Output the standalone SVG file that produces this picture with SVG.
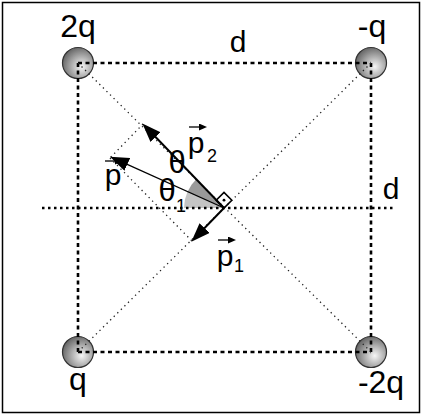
<svg xmlns="http://www.w3.org/2000/svg" width="422" height="415" viewBox="0 0 422 415">
<style>
.lbl{font-family:"Liberation Sans",Arial,sans-serif;font-size:30px;fill:#000}
.big{font-family:"Liberation Sans",Arial,sans-serif;font-size:32px;fill:#000}
.th{font-family:"Liberation Sans",Arial,sans-serif;font-size:31px;fill:#000}
.sub{font-family:"Liberation Sans",Arial,sans-serif;font-size:18px;fill:#000}
.sq{stroke:#000;stroke-width:2.6;stroke-dasharray:4 3.5;fill:none}
.mid{stroke:#000;stroke-width:2.6;stroke-dasharray:2.5 3.5;fill:none}
.diag{stroke:#222;stroke-width:1.3;stroke-dasharray:1.3 3.7;fill:none}
.vec{stroke:#000;stroke-width:2;fill:none}
.vthin{stroke:#000;stroke-width:1.3;fill:none}
.sph{fill:url(#sg);stroke:#333;stroke-width:1.2}
.sa{stroke:#000;stroke-width:1.6;fill:none}
</style>
<defs>
<radialGradient id="sg" cx="0.62" cy="0.62" r="0.75" fx="0.62" fy="0.62">
<stop offset="0" stop-color="#f6f6f6"/>
<stop offset="1" stop-color="#505050"/>
</radialGradient>
<marker id="ah" markerUnits="userSpaceOnUse" markerWidth="20" markerHeight="14" refX="8" refY="7" orient="auto">
<path d="M0,0 L19,7 L0,14 Z" fill="#000"/>
</marker>
<marker id="sm" markerUnits="userSpaceOnUse" markerWidth="9" markerHeight="7" refX="3" refY="3.5" orient="auto">
<path d="M0,0 L8,3.5 L0,7 Z" fill="#000"/>
</marker>
</defs>
<rect x="2.5" y="2.5" width="417" height="410" fill="#fff" stroke="#000" stroke-width="1.5"/>
<g id="charge-2q"><circle class="sph" cx="78" cy="63" r="15.5"/><text class="big" x="78" y="37" text-anchor="middle">2q</text></g>
<g id="charge-mq"><circle class="sph" cx="371" cy="63" r="15.5"/><text class="big" x="372" y="37" text-anchor="middle">-q</text></g>
<g id="charge-q"><circle class="sph" cx="78" cy="352" r="15.5"/><text class="big" x="78" y="390" text-anchor="middle">q</text></g>
<g id="charge-m2q"><circle class="sph" cx="371" cy="352" r="15.5"/><text class="big" x="381" y="393" text-anchor="middle">-2q</text></g>
<g id="angles">
<path d="M224,208 L184,208 A40,40 0 0,1 187.3,192.2 Z" fill="#c4c4c4"/>
<path d="M224,208 L187.3,192.2 A40,40 0 0,1 196.2,179.2 Z" fill="#9a9a9a"/>
</g>
<g id="connectors">
<line class="sq" x1="78" y1="63" x2="371" y2="63"/>
<line class="sq" x1="78" y1="352" x2="371" y2="352"/>
<line class="sq" x1="78" y1="63" x2="78" y2="352"/>
<line class="sq" x1="371" y1="63" x2="371" y2="352"/>
<line class="mid" x1="42" y1="208" x2="393" y2="208"/>
<line class="diag" x1="78" y1="63" x2="371" y2="352"/>
<line class="diag" x1="371" y1="63" x2="78" y2="352"/>
<line class="diag" x1="143" y1="124" x2="110" y2="158"/>
<line class="diag" x1="110" y1="158" x2="192" y2="241"/>
<line class="vec" x1="224" y1="208" x2="150" y2="131.3" marker-end="url(#ah)"/>
<line class="vthin" x1="224" y1="208" x2="120" y2="161.2" marker-end="url(#ah)"/>
<line class="vec" x1="224" y1="208" x2="199" y2="233.8" marker-end="url(#ah)"/>
</g>
<g id="right-angle">
<path class="sa" d="M224,208 L216.2,200.2 L224,192.4 L231.8,200.2 Z" fill="#fff"/>
<circle cx="224" cy="200.2" r="1.4" fill="#000"/>
</g>
<g id="labels">
<text class="lbl" x="238" y="52" text-anchor="middle">d</text>
<text class="lbl" x="391" y="199" text-anchor="middle">d</text>
<text class="lbl" x="113" y="185" text-anchor="middle">p</text>
<line class="vthin" x1="105" y1="161" x2="118" y2="161" marker-end="url(#sm)"/>
<text class="lbl" x="196" y="153" text-anchor="middle">p</text>
<text class="sub" x="207" y="162">2</text>
<line class="vthin" x1="189" y1="127" x2="202" y2="127" marker-end="url(#sm)"/>
<text class="th" x="177" y="173" text-anchor="middle">θ</text>
<text class="th" x="167" y="201" text-anchor="middle">θ</text>
<text class="sub" x="176" y="212">1</text>
<text class="lbl" x="225" y="266" text-anchor="middle">p</text>
<text class="sub" x="234" y="272">1</text>
<line class="vthin" x1="218" y1="240" x2="231" y2="240" marker-end="url(#sm)"/>
</g>
</svg>
